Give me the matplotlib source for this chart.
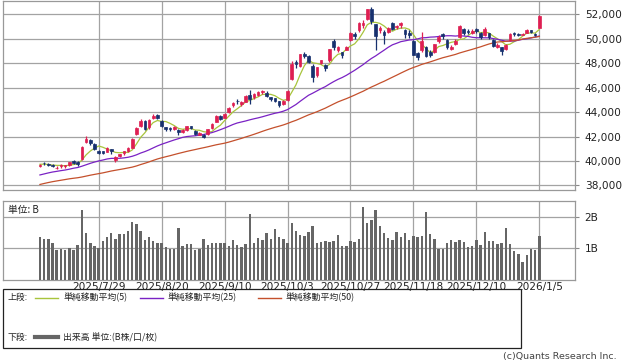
import matplotlib
matplotlib.use('Agg')
import matplotlib.pyplot as plt
import numpy as np
from matplotlib.patches import Rectangle
from matplotlib.lines import Line2D
from matplotlib.ticker import FuncFormatter

plt.rcParams['font.family'] = ['DejaVu Sans', 'Noto Sans CJK JP']

dates = ['7/8','7/9','7/10','7/11','7/14','7/15','7/16','7/17','7/18','7/22',
         '7/23','7/24','7/25','7/28','7/29','7/30','7/31','8/1','8/4','8/5',
         '8/6','8/7','8/8','8/12','8/13','8/14','8/15','8/18','8/19','8/20',
         '8/21','8/22','8/25','8/26','8/27','8/28','8/29','9/1','9/2','9/3',
         '9/4','9/5','9/8','9/9','9/10','9/11','9/12','9/16','9/17','9/18',
         '9/19','9/22','9/24','9/25','9/26','9/29','9/30','10/1','10/2','10/3',
         '10/6','10/7','10/8','10/9','10/10','10/14','10/15','10/16','10/17','10/20',
         '10/21','10/22','10/23','10/24','10/27','10/28','10/29','10/30','10/31','11/4',
         '11/5','11/6','11/7','11/10','11/11','11/12','11/13','11/14','11/17','11/18',
         '11/19','11/20','11/21','11/25','11/26','11/27','11/28','12/1','12/2','12/3',
         '12/4','12/5','12/8','12/9','12/10','12/11','12/12','12/15','12/16','12/17',
         '12/18','12/19','12/22','12/23','12/24','12/25','12/26','12/29','12/30','1/5']

opens = [39590,39850,39780,39700,39420,39560,39560,39640,40000,39900,
         40150,41550,41750,41380,40800,40780,40750,40950,40050,40400,
         40650,40850,41100,42200,42900,43250,42800,43550,43800,43300,
         42750,42700,42650,42550,42350,42550,42850,42450,42150,42150,
         42200,42700,43200,43700,43550,44000,44550,44950,44700,44850,
         45400,45200,45400,45650,45600,45200,45150,44900,44650,45000,
         46700,48100,47750,48800,48600,47800,47000,48000,47850,48250,
         49850,49100,48900,49100,49900,50400,50700,51100,51600,52450,
         51200,50700,50600,50600,51300,50950,51150,50700,50500,49800,
         48800,49050,49300,48950,48950,49800,50400,49900,49200,49600,
         50150,50800,50650,50500,50800,50500,50300,50450,49900,49350,
         49300,49200,49900,50450,50380,50350,50500,50700,50420,50900]

highs = [39720,39920,39830,39750,39560,39720,39700,39950,40080,40000,
         41200,42065,41800,41450,40900,40850,41130,41000,40400,40600,
         40850,41150,41900,42800,43450,43350,43450,43850,43880,43350,
         42800,42800,42850,42600,42600,42850,42900,42500,42400,42200,
         42650,43100,43800,43800,43900,44400,44800,45050,44900,45400,
         45850,45550,45700,45800,45700,45250,45150,44950,45000,45800,
         48150,48250,48800,48900,48700,47900,47700,48300,47950,49200,
         49950,49450,48950,49400,50550,50550,51400,51550,52450,52640,
         51250,51050,50700,51000,51400,51150,51400,50800,50700,49900,
         48900,50600,49400,49100,49600,50300,50450,50000,49500,50000,
         51100,50900,50800,50800,50900,50600,51000,50500,49950,49700,
         49350,49600,50450,50550,50500,50500,50800,50750,50450,51950]

lows = [39540,39700,39560,39480,39320,39450,39430,39560,39780,39580,
        40100,41500,41300,40900,40600,40580,40700,40600,39900,40300,
        40500,40750,41050,42100,42800,42500,42650,43450,43400,42800,
        42450,42450,42550,42100,42300,42450,42600,42100,42100,41850,
        42100,42600,43150,43350,43500,43900,44400,44700,44500,44800,
        44700,45100,45300,45500,45200,44900,44800,44400,44550,44950,
        46600,47650,47700,48400,48000,46450,46900,47900,47400,48100,
        49100,48900,48450,49050,49850,50000,50600,50900,51550,51200,
        49070,50500,49600,50500,50700,50800,50900,50100,50100,48650,
        48300,48950,48500,48500,48850,49700,50000,49200,49100,49500,
        50100,50300,50400,50400,50450,50000,50250,50000,49300,49250,
        48700,49100,49850,50250,50250,50300,50450,50450,50250,50850]

closes = [39688,39821,39646,39569,39459,39678,39663,39901,39819,39774,
          41171,41826,41456,40998,40674,40654,41069,40799,40290,40549,
          40794,41059,41820,42718,43274,42649,43378,43714,43546,42888,
          42610,42633,42807,42394,42520,42829,42718,42188,42310,41938,
          42580,43018,43643,43459,43837,44372,44768,44902,44790,45303,
          45045,45493,45630,45754,45354,45043,44932,44550,44936,45769,
          47944,47950,48735,48580,48088,46847,47672,48277,47582,49185,
          49316,49307,48641,49299,50512,50219,51307,51325,52411,51497,
          50212,50883,50276,50911,50842,51063,51281,50376,50323,48702,
          48537,49823,48625,48659,49559,50167,50253,49303,49303,49864,
          51028,50491,50581,50655,50602,50148,50836,50168,49383,49512,
          49001,49507,50402,50412,50344,50407,50750,50526,50339,51832]

# volume, billions of shares
volumes = [1.36,1.29,1.29,1.18,0.93,0.99,0.96,1.01,0.93,1.11,
           2.21,1.48,1.17,1.07,1.01,1.23,1.36,1.48,1.29,1.45,
           1.45,1.55,1.83,1.77,1.55,1.26,1.36,1.24,1.17,1.17,
           1.04,0.99,0.99,1.64,1.07,1.14,1.14,0.95,0.99,1.29,
           1.11,1.17,1.17,1.17,1.17,1.07,1.26,1.11,1.04,1.14,
           2.09,1.17,1.33,1.26,1.48,1.29,1.61,1.36,1.29,1.17,
           1.80,1.55,1.42,1.39,1.52,1.71,1.17,1.20,1.23,1.20,
           1.23,1.42,1.07,1.07,1.23,1.20,1.29,2.31,1.80,1.89,
           2.21,1.71,1.48,1.33,1.26,1.52,1.36,1.48,1.26,1.39,
           1.36,1.39,2.15,1.45,1.29,0.98,0.98,1.17,1.26,1.20,
           1.26,1.20,1.04,1.07,1.26,1.11,1.52,1.23,1.23,1.14,
           1.17,1.64,1.14,0.92,0.82,0.57,0.79,0.98,0.95,1.39]

# closes before the window (needed to start the moving averages)
prior_closes = [35705,35840,36045,36452,36830,36780,36928,37503,37644,38183,
                38128,37755,37753,37498,37529,37299,36985,37160,37531,37724,
                37722,38432,37965,37470,37446,37747,37554,37741,38088,38211,
                38421,38173,37834,38311,38536,38885,38488,38403,38354,38790,
                38942,39584,40150,40487,39986,39762,39785,39810,39587]

tick_dates = ['7/29', '8/20', '9/10', '10/3', '10/27', '11/18', '12/10', '1/5']
tick_labels = ['2025/7/29', '2025/8/20', '2025/9/10', '2025/10/3',
               '2025/10/27', '2025/11/18', '2025/12/10', '2026/1/5']
price_ticks = [38000, 40000, 42000, 44000, 46000, 48000, 50000, 52000]
vol_ticks = [1, 2]
vol_tick_labels = ['1B', '2B']
ma_periods = [5, 25, 50]
ma_colors = ['#a8c43c', '#7a22c4', '#c4502c']
legend_labels = ['単純移動平均(5)', '単純移動平均(25)', '単純移動平均(50)']

UP = '#de1f52'
DOWN = '#17306e'
GRID = '#a3a3a3'

W, H = 638, 362
fig = plt.figure(figsize=(W / 100, H / 100), dpi=100)

def fx(px):
    return px / W

def fy(py):
    return 1 - py / H

ax = fig.add_axes([fx(3), fy(190), fx(575) - fx(3), fy(1) - fy(190)])
axv = fig.add_axes([fx(3), fy(280), fx(575) - fx(3), fy(201) - fy(280)])

x = np.arange(len(closes))
allc = np.array(prior_closes + closes, dtype=float)
npre = len(prior_closes)

# candles
for i in x:
    o, h, l, c = opens[i], highs[i], lows[i], closes[i]
    col = UP if c >= o else DOWN
    ax.vlines(i, l, h, color=col, linewidth=0.9, zorder=3)
    body = max(abs(c - o), 25)
    ax.add_patch(Rectangle((i - 0.32, min(o, c)), 0.64, body, facecolor=col,
                           edgecolor=col, linewidth=0.5, zorder=4))

# moving averages
for n, col in zip(ma_periods, ma_colors):
    ma = np.array([allc[npre + i - n + 1: npre + i + 1].mean() for i in x])
    ax.plot(x, ma, color=col, linewidth=0.9, zorder=2)

xlim = (-8.8, 127.5)
tick_pos = [dates.index(d) for d in tick_dates]

ax.set_xlim(*xlim)
ax.set_ylim(37620, 53100)
ax.set_xticks(tick_pos)
ax.set_xticklabels([])
ax.set_yticks(price_ticks)
ax.yaxis.tick_right()
ax.yaxis.set_major_formatter(FuncFormatter(lambda v, p: f'{int(v):,}'))
ax.tick_params(axis='y', labelsize=7.6, length=3, color='#888888', pad=4,
               labelcolor='#222222')
ax.tick_params(axis='x', length=0)
ax.grid(True, color=GRID, linewidth=0.9)
ax.set_axisbelow(True)
for s in ax.spines.values():
    s.set_color('#999999')
    s.set_linewidth(0.9)

# volume
axv.bar(x, volumes, width=0.58, color='#666666', zorder=3)
axv.set_xlim(*xlim)
axv.set_ylim(0, 2.49)
axv.set_xticks(tick_pos)
axv.set_xticklabels(tick_labels)
axv.set_yticks(vol_ticks)
axv.set_yticklabels(vol_tick_labels)
axv.yaxis.tick_right()
axv.tick_params(axis='y', labelsize=7.6, length=3, color='#888888', pad=4,
                labelcolor='#222222')
axv.tick_params(axis='x', labelsize=7.6, length=0, pad=1.5, labelcolor='#222222')
axv.grid(True, color=GRID, linewidth=0.9)
axv.set_axisbelow(True)
for s in axv.spines.values():
    s.set_color('#999999')
    s.set_linewidth(0.9)
axv.text(fx(8 - 3) / (fx(575) - fx(3)), 0.885, '単位: B', transform=axv.transAxes,
         fontsize=7, va='center', ha='left', color='#222222',
         family=['Noto Sans CJK JP', 'DejaVu Sans'])

# legend box
fig.patches.append(Rectangle((fx(3), fy(348)), fx(521) - fx(3), fy(289) - fy(348),
                             transform=fig.transFigure, fill=False,
                             edgecolor='#222222', linewidth=0.9))
jp = ['Noto Sans CJK JP', 'DejaVu Sans']
row1 = 297.5
fig.text(fx(8), fy(row1), '上段:', fontsize=6.4, va='center', ha='left',
         family=jp, color='#222222')
starts = [35, 140, 258]
for sx, col, lab in zip(starts, ma_colors, legend_labels):
    fig.add_artist(Line2D([fx(sx), fx(sx + 23)], [fy(row1), fy(row1)],
                          color=col, linewidth=1.0, transform=fig.transFigure))
    fig.text(fx(sx + 28), fy(row1), lab, fontsize=6.4, va='center', ha='left',
             family=jp, color='#222222')
row2 = 337
fig.text(fx(8), fy(row2), '下段:', fontsize=6.4, va='center', ha='left',
         family=jp, color='#222222')
fig.add_artist(Line2D([fx(35), fx(58)], [fy(row2), fy(row2)], color='#666666',
                      linewidth=3.0, transform=fig.transFigure))
fig.text(fx(63), fy(row2), '出来高 単位:(B株/口/枚)', fontsize=6.4, va='center',
         ha='left', family=jp, color='#222222')

fig.text(fx(617), fy(356), '(c)Quants Research Inc.', fontsize=6.8, va='center',
         ha='right', color='#444444')

fig.savefig('out.png', dpi=100)
